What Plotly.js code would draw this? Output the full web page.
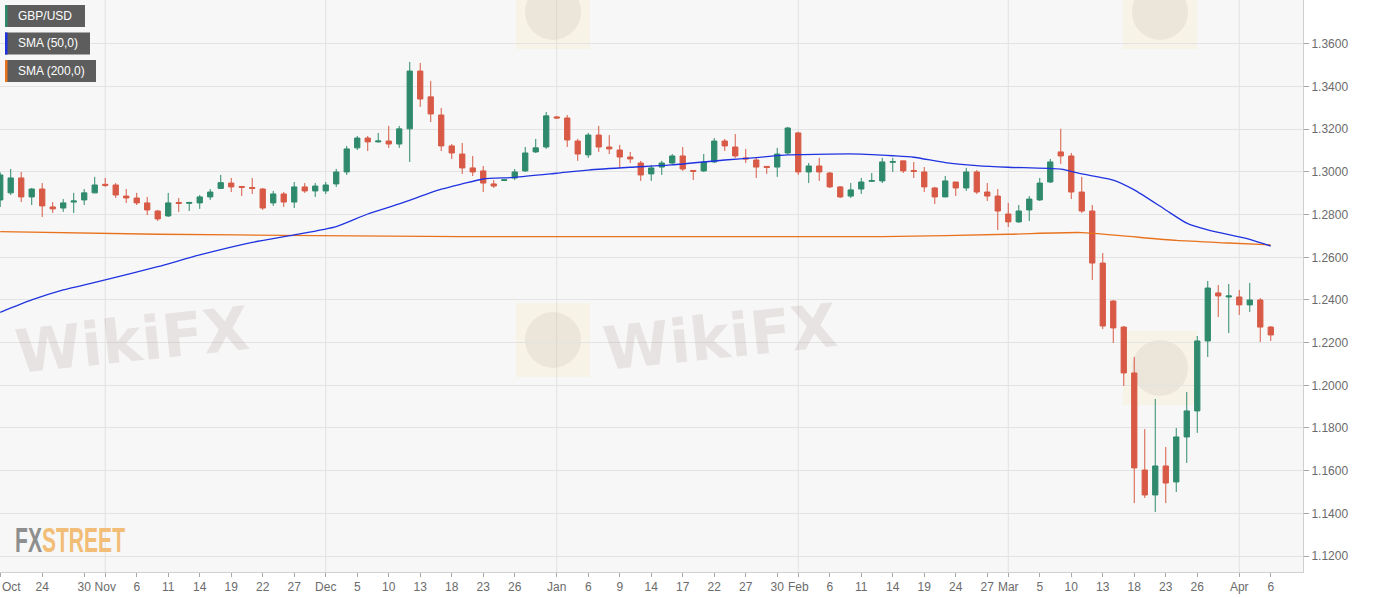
<!DOCTYPE html>
<html>
<head>
<meta charset="utf-8">
<script src="https://cdn.plot.ly/plotly-3.0.1.min.js"></script>
<style>
  html, body { margin: 0; padding: 0; background: #ffffff; }
  #chart { width: 1387px; height: 598px; }
</style>
</head>
<body>
<div id="chart"></div>
<script>
// ---------------- DATA ----------------
const dates = [
  '2019-10-18','2019-10-21','2019-10-22','2019-10-23','2019-10-24','2019-10-25','2019-10-28','2019-10-29','2019-10-30','2019-10-31',
  '2019-11-01','2019-11-04','2019-11-05','2019-11-06','2019-11-07','2019-11-08','2019-11-11','2019-11-12','2019-11-13','2019-11-14',
  '2019-11-15','2019-11-18','2019-11-19','2019-11-20','2019-11-21','2019-11-22','2019-11-25','2019-11-26','2019-11-27','2019-11-28',
  '2019-11-29','2019-12-02','2019-12-03','2019-12-04','2019-12-05','2019-12-06','2019-12-09','2019-12-10','2019-12-11','2019-12-12',
  '2019-12-13','2019-12-16','2019-12-17','2019-12-18','2019-12-19','2019-12-20','2019-12-23','2019-12-24','2019-12-25','2019-12-26',
  '2019-12-27','2019-12-30','2019-12-31','2020-01-01','2020-01-02','2020-01-03','2020-01-06','2020-01-07','2020-01-08','2020-01-09',
  '2020-01-10','2020-01-13','2020-01-14','2020-01-15','2020-01-16','2020-01-17','2020-01-20','2020-01-21','2020-01-22','2020-01-23',
  '2020-01-24','2020-01-27','2020-01-28','2020-01-29','2020-01-30','2020-01-31','2020-02-03','2020-02-04','2020-02-05','2020-02-06',
  '2020-02-07','2020-02-10','2020-02-11','2020-02-12','2020-02-13','2020-02-14','2020-02-17','2020-02-18','2020-02-19','2020-02-20',
  '2020-02-21','2020-02-24','2020-02-25','2020-02-26','2020-02-27','2020-02-28','2020-03-02','2020-03-03','2020-03-04','2020-03-05',
  '2020-03-06','2020-03-09','2020-03-10','2020-03-11','2020-03-12','2020-03-13','2020-03-16','2020-03-17','2020-03-18','2020-03-19',
  '2020-03-20','2020-03-23','2020-03-24','2020-03-25','2020-03-26','2020-03-27','2020-03-30','2020-03-31','2020-04-01','2020-04-02',
  '2020-04-03','2020-04-06'
];

const open = [
  1.2869,1.2902,1.2972,1.2883,1.2920,1.2836,1.2831,1.2859,1.2869,1.2902,
  1.2942,1.2939,1.2887,1.2878,1.2855,1.2817,1.2794,1.2857,1.2853,1.2855,
  1.2883,1.2923,1.2948,1.2932,1.2927,1.2920,1.2855,1.2897,1.2859,1.2930,
  1.2911,1.2911,1.2944,1.3000,1.3113,1.3159,1.3141,1.3145,1.3131,1.3202,
  1.3473,1.3352,1.3267,1.3122,1.3084,1.3019,1.3005,1.2944,1.2960,1.2972,
  1.3005,1.3094,1.3117,1.3258,1.3253,1.3145,1.3080,1.3173,1.3117,1.3103,
  1.3070,1.3042,1.2991,1.3023,1.3042,1.3075,1.3007,1.3005,1.3047,1.3145,
  1.3117,1.3066,1.3056,1.3026,1.3023,1.3089,1.3183,1.3000,1.3028,1.2995,
  1.2930,1.2887,1.2920,1.2956,1.2958,1.3045,1.3052,1.3007,1.3000,1.2925,
  1.2883,1.2953,1.2925,1.3000,1.2906,1.2887,1.2803,1.2766,1.2822,1.2869,
  1.2953,1.3094,1.3075,1.2906,1.2817,1.2573,1.2395,1.2273,1.2058,1.1603,
  1.1486,1.1622,1.1547,1.1758,1.1880,1.2208,1.2433,1.2414,1.2414,1.2377,
  1.2400,1.2273
];
const high = [
  1.2998,1.3014,1.3000,1.2925,1.2948,1.2859,1.2873,1.2902,1.2920,1.2977,
  1.2972,1.2948,1.2920,1.2902,1.2883,1.2822,1.2902,1.2878,1.2860,1.2892,
  1.2920,1.2986,1.2972,1.2934,1.2972,1.2925,1.2911,1.2906,1.2953,1.2948,
  1.2948,1.2953,1.3014,1.3122,1.3169,1.3169,1.3183,1.3216,1.3216,1.3516,
  1.3511,1.3427,1.3300,1.3131,1.3136,1.3075,1.3028,1.2962,1.2966,1.3014,
  1.3117,1.3155,1.3281,1.3263,1.3267,1.3155,1.3183,1.3216,1.3173,1.3127,
  1.3094,1.3052,1.3033,1.3052,1.3084,1.3117,1.3009,1.3084,1.3159,1.3155,
  1.3178,1.3108,1.3066,1.3028,1.3113,1.3211,1.3188,1.3042,1.3066,1.3000,
  1.2934,1.2948,1.2972,1.2995,1.3066,1.3066,1.3052,1.3047,1.3023,1.2930,
  1.2981,1.2953,1.3019,1.3009,1.2948,1.2920,1.2855,1.2845,1.2887,1.2972,
  1.3061,1.3202,1.3089,1.2977,1.2845,1.2620,1.2400,1.2278,1.2133,1.1795,
  1.1936,1.1711,1.1800,1.1969,1.2231,1.2489,1.2470,1.2475,1.2447,1.2480,
  1.2409,1.2278
];
const low = [
  1.2836,1.2892,1.2859,1.2845,1.2789,1.2808,1.2813,1.2808,1.2845,1.2900,
  1.2930,1.2878,1.2855,1.2845,1.2798,1.2770,1.2789,1.2813,1.2817,1.2827,
  1.2869,1.2920,1.2906,1.2887,1.2897,1.2822,1.2841,1.2836,1.2831,1.2902,
  1.2883,1.2897,1.2930,1.2986,1.3103,1.3098,1.3138,1.3113,1.3113,1.3047,
  1.3305,1.3234,1.3098,1.3061,1.2991,1.2981,1.2906,1.2925,1.2957,1.2962,
  1.3000,1.3089,1.3108,1.3249,1.3117,1.3052,1.3066,1.3094,1.3084,1.3019,
  1.3042,1.2958,1.2958,1.2986,1.3033,1.3005,1.2962,1.3000,1.3042,1.3098,
  1.3066,1.3042,1.2972,1.2991,1.2977,1.3084,1.2986,1.2948,1.2958,1.2925,
  1.2878,1.2878,1.2897,1.2953,1.2948,1.3000,1.2995,1.2972,1.2906,1.2850,
  1.2883,1.2887,1.2911,1.2897,1.2864,1.2728,1.2742,1.2761,1.2770,1.2864,
  1.2948,1.3038,1.2873,1.2808,1.2494,1.2264,1.2198,1.1997,1.1448,1.1472,
  1.1406,1.1448,1.1500,1.1636,1.1777,1.2133,1.2320,1.2245,1.2330,1.2344,
  1.2203,1.2208
];
const close = [
  1.2986,1.2972,1.2883,1.2920,1.2841,1.2827,1.2855,1.2864,1.2902,1.2939,
  1.2937,1.2892,1.2878,1.2855,1.2822,1.2780,1.2855,1.2853,1.2857,1.2883,
  1.2906,1.2950,1.2930,1.2928,1.2923,1.2831,1.2897,1.2859,1.2930,1.2911,
  1.2934,1.2939,1.3000,1.3108,1.3159,1.3141,1.3145,1.3131,1.3202,1.3473,
  1.3342,1.3272,1.3122,1.3089,1.3019,1.3000,1.2948,1.2934,1.2963,1.3000,
  1.3089,1.3113,1.3263,1.3253,1.3150,1.3084,1.3173,1.3117,1.3108,1.3070,
  1.3061,1.2986,1.3019,1.3042,1.3075,1.3014,1.3003,1.3047,1.3145,1.3122,
  1.3075,1.3061,1.3023,1.3021,1.3084,1.3206,1.3000,1.3028,1.3000,1.2930,
  1.2883,1.2916,1.2953,1.2960,1.3047,1.3049,1.3005,1.3003,1.2930,1.2883,
  1.2958,1.2925,1.3000,1.2906,1.2887,1.2817,1.2766,1.2817,1.2873,1.2948,
  1.3047,1.3075,1.2906,1.2817,1.2573,1.2278,1.2269,1.2058,1.1613,1.1486,
  1.1622,1.1542,1.1758,1.1880,1.2208,1.2456,1.2419,1.2419,1.2377,1.2400,
  1.2273,1.2236
];

// SMA (50)
const sma50Dates = ['2019-10-18','2019-10-23','2019-10-28','2019-11-01','2019-11-08','2019-11-14','2019-11-21','2019-11-27',
  '2019-12-03','2019-12-06','2019-12-11','2019-12-17','2019-12-19','2019-12-23','2019-12-26','2020-01-01','2020-01-06',
  '2020-01-10','2020-01-16','2020-01-23','2020-01-28','2020-01-31','2020-02-06','2020-02-11','2020-02-14','2020-02-18',
  '2020-02-21','2020-02-26','2020-03-02','2020-03-09','2020-03-11','2020-03-16','2020-03-18','2020-03-23','2020-03-25',
  '2020-03-27','2020-04-02','2020-04-06'];
const sma50 = [1.2342,1.2400,1.2447,1.2494,1.2556,1.2611,1.2670,1.2705,
  1.2744,1.2803,1.2850,1.2919,1.2944,1.2967,1.2975,1.2994,1.3009,
  1.3022,1.3033,1.3056,1.3067,1.3080,1.3084,1.3084,1.3076,1.3069,
  1.3044,1.3030,1.3022,1.3013,1.2991,1.2962,1.2916,1.2822,1.2760,
  1.2728,1.2684,1.2652];

// SMA (200)
const sma200Dates = ['2019-10-18','2019-11-08','2019-11-29','2019-12-19','2020-01-10','2020-02-03','2020-02-13',
  '2020-03-02','2020-03-11','2020-03-17','2020-03-24','2020-03-31','2020-04-06'];
const sma200 = [1.2720,1.2708,1.2702,1.2697,1.2697,1.2697,1.2697,1.2708,1.2716,1.2700,1.2679,1.2667,1.2658];

const tickDates = ['2019-10-18','2019-10-24','2019-10-30','2019-11-01','2019-11-06','2019-11-11','2019-11-14','2019-11-19',
  '2019-11-22','2019-11-27','2019-12-02','2019-12-05','2019-12-10','2019-12-13','2019-12-18','2019-12-23','2019-12-26',
  '2020-01-01','2020-01-06','2020-01-09','2020-01-14','2020-01-17','2020-01-22','2020-01-27','2020-01-30','2020-02-03',
  '2020-02-06','2020-02-11','2020-02-14','2020-02-19','2020-02-24','2020-02-27','2020-03-02','2020-03-05','2020-03-10',
  '2020-03-13','2020-03-18','2020-03-23','2020-03-26','2020-04-01','2020-04-06'];
const tickLabels = ['Oct','24','30','Nov','6','11','14','19','22','27','Dec','5','10','13','18','23','26',
  'Jan','6','9','14','17','22','27','30','Feb','6','11','14','19','24','27','Mar','5','10','13','18','23','26','Apr','6'];
const monthStarts = ['2019-11-01','2019-12-02','2020-01-01','2020-02-03','2020-03-02','2020-04-01'];
const priceTicks = [1.12,1.14,1.16,1.18,1.20,1.22,1.24,1.26,1.28,1.30,1.32,1.34,1.36];

const legendItems = ['GBP/USD','SMA (50,0)','SMA (200,0)'];
const legendColors = ['#2f8a6d','#1f33e0','#e8731e'];

// ---------------- LAYOUT HELPERS ----------------
const W = 1387, H = 598;
const M = {l: 0, r: 84, t: 0, b: 26};
const PW = W - M.l - M.r, PH = H - M.t - M.b;
const px = x => x / PW;
const py = y => 1 - y / PH;

const GREEN = '#2f8a6d', RED = '#d85a46';
const FONT = 'Liberation Sans, Arial, sans-serif';

const traces = [
  {
    type: 'candlestick', x: dates, open: open, high: high, low: low, close: close,
    increasing: {line: {color: GREEN, width: 1}, fillcolor: GREEN},
    decreasing: {line: {color: RED, width: 1}, fillcolor: RED},
    whiskerwidth: 0, hoverinfo: 'skip', showlegend: false
  },
  {
    type: 'scatter', mode: 'lines', x: sma200Dates, y: sma200,
    line: {color: '#e8731e', width: 1.3, shape: 'spline', smoothing: 0.6},
    hoverinfo: 'skip', showlegend: false
  },
  {
    type: 'scatter', mode: 'lines', x: sma50Dates, y: sma50,
    line: {color: '#1f33e0', width: 1.3, shape: 'spline', smoothing: 0.6},
    hoverinfo: 'skip', showlegend: false
  }
];

const shapes = [];
const annotations = [];

// month grid lines
monthStarts.forEach(d => {
  shapes.push({type: 'line', xref: 'x', yref: 'paper', x0: dates.indexOf(d), x1: dates.indexOf(d), y0: 0, y1: 1,
    line: {color: '#e2e2e2', width: 1}, layer: 'below'});
});

// watermarks (decorative)
const wmColor = 'rgba(140,115,105,0.15)';
[[132, 340], [720, 337]].forEach(p => {
  annotations.push({xref: 'paper', yref: 'paper', x: px(p[0]), y: py(p[1]), xanchor: 'center', yanchor: 'middle',
    text: '<b>WikiFX</b>', showarrow: false, textangle: -6,
    font: {family: 'DejaVu Sans, sans-serif', size: 60, color: wmColor}});
});
[[553, 340], [1160, 368], [553, 12], [1160, 12]].forEach(p => {
  shapes.push({type: 'rect', xref: 'paper', yref: 'paper', x0: px(p[0] - 37), x1: px(p[0] + 37), y0: py(p[1] + 37), y1: py(p[1] - 37),
    fillcolor: 'rgba(250,225,150,0.16)', line: {width: 0}, layer: 'below'});
  shapes.push({type: 'circle', xref: 'paper', yref: 'paper', x0: px(p[0] - 28), x1: px(p[0] + 28), y0: py(p[1] + 28), y1: py(p[1] - 28),
    fillcolor: 'rgba(170,150,145,0.14)', line: {width: 0}, layer: 'below'});
});

// legend boxes
const boxW = [80, 85, 91];
legendItems.forEach((t, i) => {
  const y0 = 5 + i * 27.5, y1 = y0 + 22;
  shapes.push({type: 'rect', xref: 'paper', yref: 'paper', x0: px(5), x1: px(5 + boxW[i]), y0: py(y1), y1: py(y0),
    fillcolor: '#5d5d5d', line: {width: 0}, layer: 'above'});
  shapes.push({type: 'rect', xref: 'paper', yref: 'paper', x0: px(5), x1: px(7.5), y0: py(y1), y1: py(y0),
    fillcolor: legendColors[i], line: {width: 0}, layer: 'above'});
  annotations.push({xref: 'paper', yref: 'paper', x: px(16), y: py((y0 + y1) / 2), xanchor: 'left', yanchor: 'middle',
    text: t, showarrow: false, font: {family: FONT, size: 12, color: '#ffffff'}});
});

// FXSTREET logo
annotations.push({xref: 'paper', yref: 'paper', x: px(70), y: py(539), xanchor: 'center', yanchor: 'middle', showarrow: false,
  text: '<b><span style="color:#8e8e8e">FX</span><span style="color:#f2bd76">STREET</span></b>',
  font: {family: 'Liberation Sans, Arial, sans-serif', size: 36, color: '#8e8e8e'}});

// first x label ("Oct") kept inside the frame
annotations.push({xref: 'paper', yref: 'paper', x: 0, y: 0, xanchor: 'left', yanchor: 'top', yshift: -6, showarrow: false,
  text: tickLabels[0], font: {family: FONT, size: 12, color: '#6b6b6b'}});

const layout = {
  width: W, height: H,
  margin: M,
  paper_bgcolor: '#ffffff',
  plot_bgcolor: '#f7f7f7',
  font: {family: FONT, size: 12, color: '#6b6b6b'},
  showlegend: false,
  boxgap: 0.28,
  xaxis: {
    type: 'category',
    range: [-0.02, 124.07],
    tickmode: 'array', tickvals: tickDates, ticktext: tickLabels.map((t, i) => i === 0 ? '' : t),
    ticks: 'outside', ticklen: 4, tickcolor: '#a8a8a8',
    showgrid: false, zeroline: false,
    showline: true, linecolor: '#d0d0d0', mirror: true,
    tickfont: {family: FONT, size: 12, color: '#6b6b6b'},
    rangeslider: {visible: false}, fixedrange: true
  },
  yaxis: {
    side: 'right',
    range: [1.1125, 1.3806],
    tickmode: 'array', tickvals: priceTicks, tickformat: '.4f',
    ticks: 'outside', ticklen: 5, tickcolor: '#a8a8a8',
    gridcolor: '#e3e3e3', zeroline: false,
    showline: true, linecolor: '#d0d0d0', mirror: true,
    tickfont: {family: FONT, size: 12, color: '#6b6b6b'},
    fixedrange: true
  },
  shapes: shapes,
  annotations: annotations
};

Plotly.newPlot('chart', traces, layout, {staticPlot: true, displayModeBar: false}).then(() => {
  // condense the FXSTREET logo text horizontally to its narrow width in the reference
  document.querySelectorAll('.annotation-text').forEach(el => {
    if (el.textContent === 'FXSTREET') {
      const bb = el.getBBox();
      const cx = bb.x + bb.width / 2;
      const s = 110 / bb.width;
      el.setAttribute('transform', 'translate(' + cx + ',0) scale(' + s + ',1) translate(' + (-cx) + ',0)');
    }
  });
});
</script>
</body>
</html>
